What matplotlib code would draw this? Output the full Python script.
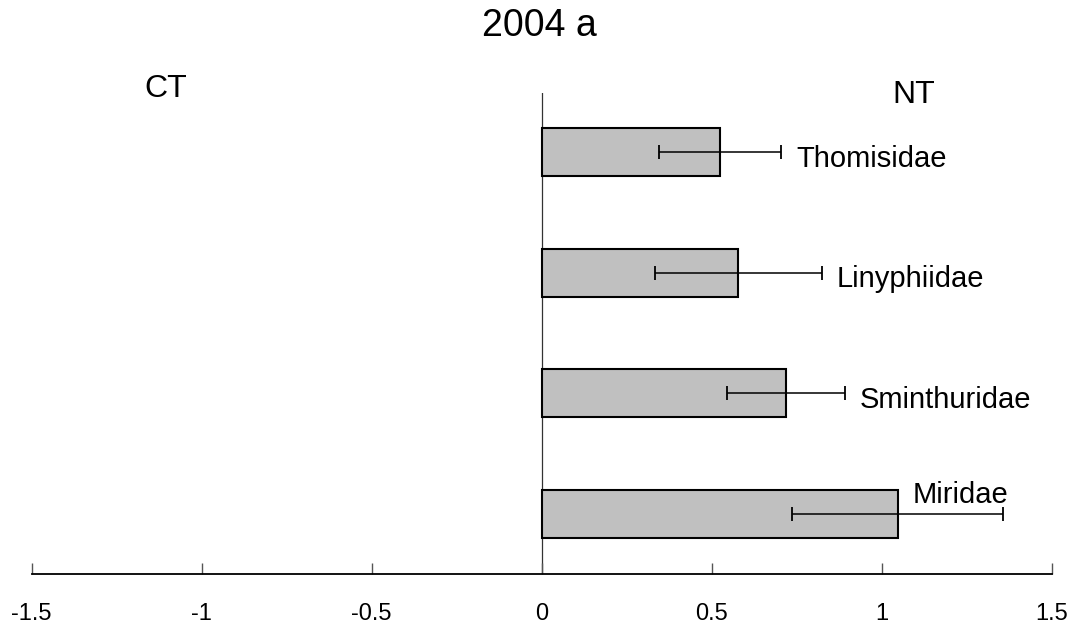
import numpy as np
import matplotlib
matplotlib.use('Agg')
import matplotlib.pyplot as plt

plt.rcParams['font.family'] = ['Liberation Sans', 'DejaVu Sans']

# taxa from bottom to top, mean response and error (NT positive, CT negative)
families = ['Miridae', 'Sminthuridae', 'Linyphiidae', 'Thomisidae']
means = [1.047, 0.718, 0.578, 0.525]
errors = [0.311, 0.173, 0.245, 0.18]
xticks = [-1.5, -1, -0.5, 0, 0.5, 1, 1.5]
xtick_labels = ['-1.5', '-1', '-0.5', '0', '0.5', '1', '1.5']

fig = plt.figure(figsize=(10.78, 6.3), dpi=100)
ax = fig.add_axes([0.0294, 0.0889, 0.9462, 0.7635])

pos = np.arange(len(families)) + 0.5
ax.barh(pos, means, height=0.4, color='#c0c0c0', edgecolor='black', linewidth=1.5, zorder=2)
ax.errorbar(means, pos, xerr=errors, fmt='none', ecolor='black', elinewidth=1.1,
            capsize=5, capthick=1.3, zorder=3)

# family names next to the error bars; the long Miridae bar gets its label above
for i, name in enumerate(families):
    if name == 'Miridae':
        ax.text(means[i] + errors[i] + 0.015, pos[i] + 0.18, name, fontsize=21,
                ha='right', va='center_baseline')
    else:
        ax.text(means[i] + errors[i] + 0.045, pos[i] - 0.03, name, fontsize=21,
                ha='left', va='center_baseline')

ax.text(-1.105, 4.05, 'CT', fontsize=23, ha='center', va='center_baseline', clip_on=False)
ax.text(1.093, 4.0, 'NT', fontsize=23, ha='center', va='center_baseline', clip_on=False)

ax.axvline(0, color='#333333', linewidth=0.9, zorder=1)

ax.set_xlim(-1.5, 1.5)
ax.set_ylim(0, 3.99)
ax.set_xticks(xticks)
ax.set_xticklabels(xtick_labels)
ax.set_yticks([])
ax.tick_params(axis='x', direction='in', length=8, width=1, color='#555555',
               labelsize=17, pad=21)
for side in ['left', 'top', 'right']:
    ax.spines[side].set_visible(False)
ax.spines['bottom'].set_linewidth(1.3)

fig.text(0.5, 0.958, '2004 a', fontsize=27, ha='center', va='center')

fig.savefig('out.png', dpi=100)
